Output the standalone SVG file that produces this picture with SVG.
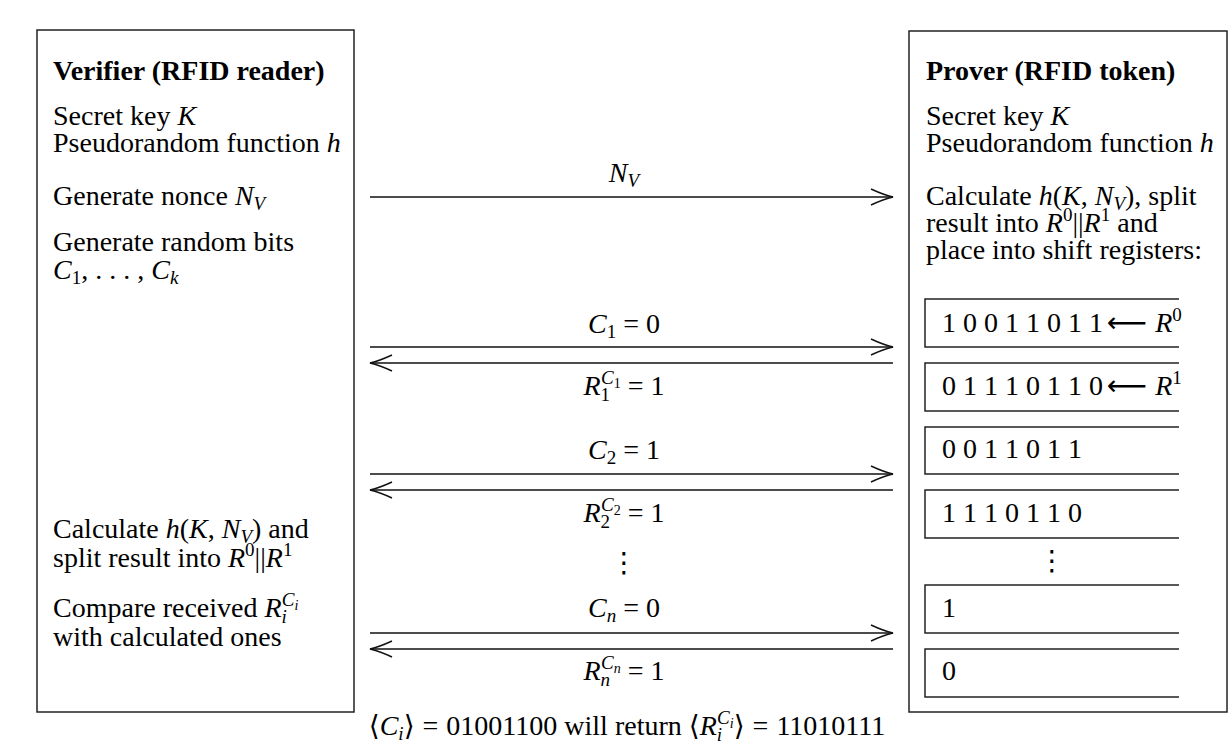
<svg xmlns="http://www.w3.org/2000/svg" width="1232" height="745" viewBox="0 0 1232 745">
<style>
.t{font-family:"Liberation Serif","DejaVu Serif",serif;font-size:28px;fill:#000}
.i{font-style:italic}
.b{font-weight:bold}
.s{font-size:19px}
.ss{font-size:14px}
.box{fill:none;stroke:#222;stroke-width:1.5}
.reg{fill:none;stroke:#222;stroke-width:1.5}
.ln{stroke:#111;stroke-width:1.4;fill:none}
.sym{font-family:"DejaVu Sans","DejaVu Serif",sans-serif}
</style>
<defs>
<marker id="ah" viewBox="0 0 24 20" refX="23" refY="10" markerWidth="24" markerHeight="20" markerUnits="userSpaceOnUse" orient="auto-start-reverse">
<path d="M1,2 Q14,8 23,10 Q14,12 1,18" fill="none" stroke="#111" stroke-width="1.4"/>
</marker>
</defs>
<rect width="1232" height="745" fill="#fff"/>

<g id="verifier">
<rect class="box" x="37" y="30" width="317" height="682"/>
<text class="t b" x="53" y="80">Verifier (RFID reader)</text>
<text class="t" x="53" y="125">Secret key <tspan class="i">K</tspan></text>
<text class="t" x="53" y="152">Pseudorandom function <tspan class="i">h</tspan></text>
<text class="t" x="53" y="205">Generate nonce <tspan class="i">N</tspan><tspan class="s i" dy="5">V</tspan></text>
<text class="t" x="53" y="251">Generate random bits</text>
<text class="t" x="53" y="279"><tspan class="i">C</tspan><tspan class="s" dy="5">1</tspan><tspan dy="-5">, . . . , </tspan><tspan class="i">C</tspan><tspan class="s i" dy="5">k</tspan></text>
<text class="t" x="53" y="538">Calculate <tspan class="i">h</tspan>(<tspan class="i">K</tspan>, <tspan class="i">N</tspan><tspan class="s i" dy="5">V</tspan><tspan dy="-5">) and</tspan></text>
<text class="t" x="53" y="567">split result into <tspan class="i">R</tspan><tspan class="s" dy="-11">0</tspan><tspan dy="11">||</tspan><tspan class="i">R</tspan><tspan class="s" dy="-11">1</tspan></text>
<text class="t" x="53" y="617">Compare received <tspan class="i">R</tspan><tspan class="s i" dy="6">i</tspan><tspan class="s i" dx="-5" dy="-17">C</tspan><tspan class="ss i" dy="4">i</tspan></text>
<text class="t" x="53" y="646">with calculated ones</text>
</g>

<g id="prover">
<rect class="box" x="909" y="31" width="318" height="681"/>
<text class="t b" x="926" y="80">Prover (RFID token)</text>
<text class="t" x="926" y="125">Secret key <tspan class="i">K</tspan></text>
<text class="t" x="926" y="152">Pseudorandom function <tspan class="i">h</tspan></text>
<text class="t" x="926" y="205">Calculate <tspan class="i">h</tspan>(<tspan class="i">K</tspan>, <tspan class="i">N</tspan><tspan class="s i" dy="5">V</tspan><tspan dy="-5">), split</tspan></text>
<text class="t" x="926" y="232">result into <tspan class="i">R</tspan><tspan class="s" dy="-11">0</tspan><tspan dy="11">||</tspan><tspan class="i">R</tspan><tspan class="s" dy="-11">1</tspan><tspan dy="11"> and</tspan></text>
<text class="t" x="926" y="259">place into shift registers:</text>
</g>

<g id="registers">
<path class="reg" d="M1179,299 H925 V347 H1179"/>
<path class="reg" d="M1179,363 H925 V411 H1179"/>
<path class="reg" d="M1179,427 H925 V474 H1179"/>
<path class="reg" d="M1179,490 H925 V538 H1179"/>
<path class="reg" d="M1179,585 H925 V633 H1179"/>
<path class="reg" d="M1179,649 H925 V697 H1179"/>
<text class="t" x="942" y="332">1 0 0 1 1 0 1 1<tspan class="sym" dx="4">⟵</tspan><tspan class="i" dx="8">R</tspan><tspan class="s" dy="-11">0</tspan></text>
<text class="t" x="942" y="395">0 1 1 1 0 1 1 0<tspan class="sym" dx="4">⟵</tspan><tspan class="i" dx="8">R</tspan><tspan class="s" dy="-11">1</tspan></text>
<text class="t" x="942" y="458">0 0 1 1 0 1 1</text>
<text class="t" x="942" y="522">1 1 1 0 1 1 0</text>
<text class="t sym" x="1052" y="570" text-anchor="middle">⋮</text>
<text class="t" x="942" y="617">1</text>
<text class="t" x="942" y="680">0</text>
</g>

<g id="connectors">
<line class="ln" x1="370" y1="197" x2="893" y2="197" marker-end="url(#ah)"/>
<line class="ln" x1="370" y1="347" x2="893" y2="347" marker-end="url(#ah)"/>
<line class="ln" x1="893" y1="363" x2="370" y2="363" marker-end="url(#ah)"/>
<line class="ln" x1="370" y1="474" x2="893" y2="474" marker-end="url(#ah)"/>
<line class="ln" x1="893" y1="490" x2="370" y2="490" marker-end="url(#ah)"/>
<line class="ln" x1="370" y1="633" x2="893" y2="633" marker-end="url(#ah)"/>
<line class="ln" x1="893" y1="649" x2="370" y2="649" marker-end="url(#ah)"/>
</g>

<g id="labels">
<text class="t" x="624" y="182" text-anchor="middle"><tspan class="i">N</tspan><tspan class="s i" dy="5">V</tspan></text>
<text class="t" x="624" y="333" text-anchor="middle"><tspan class="i">C</tspan><tspan class="s" dy="5">1</tspan><tspan dx="7" dy="-5">=</tspan><tspan dx="7">0</tspan></text>
<text class="t" x="624" y="395" text-anchor="middle"><tspan class="i">R</tspan><tspan class="s" dy="6">1</tspan><tspan class="s i" dx="-9" dy="-17">C</tspan><tspan class="ss" dy="4">1</tspan><tspan dx="7" dy="7">=</tspan><tspan dx="7">1</tspan></text>
<text class="t" x="624" y="459" text-anchor="middle"><tspan class="i">C</tspan><tspan class="s" dy="5">2</tspan><tspan dx="7" dy="-5">=</tspan><tspan dx="7">1</tspan></text>
<text class="t" x="624" y="522" text-anchor="middle"><tspan class="i">R</tspan><tspan class="s" dy="6">2</tspan><tspan class="s i" dx="-9" dy="-17">C</tspan><tspan class="ss" dy="4">2</tspan><tspan dx="7" dy="7">=</tspan><tspan dx="7">1</tspan></text>
<text class="t sym" x="624" y="572" text-anchor="middle">⋮</text>
<text class="t" x="624" y="617" text-anchor="middle"><tspan class="i">C</tspan><tspan class="s i" dy="5">n</tspan><tspan dx="7" dy="-5">=</tspan><tspan dx="7">0</tspan></text>
<text class="t" x="624" y="680" text-anchor="middle"><tspan class="i">R</tspan><tspan class="s i" dy="6">n</tspan><tspan class="s i" dx="-9" dy="-17">C</tspan><tspan class="ss i" dy="4">n</tspan><tspan dx="7" dy="7">=</tspan><tspan dx="7">1</tspan></text>
<text class="t" x="627" y="735" text-anchor="middle">⟨<tspan class="i">C</tspan><tspan class="s i" dy="5">i</tspan><tspan dy="-5">⟩</tspan><tspan dx="8">=</tspan><tspan dx="8">01001100 will return ⟨</tspan><tspan class="i">R</tspan><tspan class="s i" dy="6">i</tspan><tspan class="s i" dx="-5" dy="-17">C</tspan><tspan class="ss i" dy="4">i</tspan><tspan dy="7">⟩</tspan><tspan dx="8">=</tspan><tspan dx="8">11010111</tspan></text>
</g>
</svg>
